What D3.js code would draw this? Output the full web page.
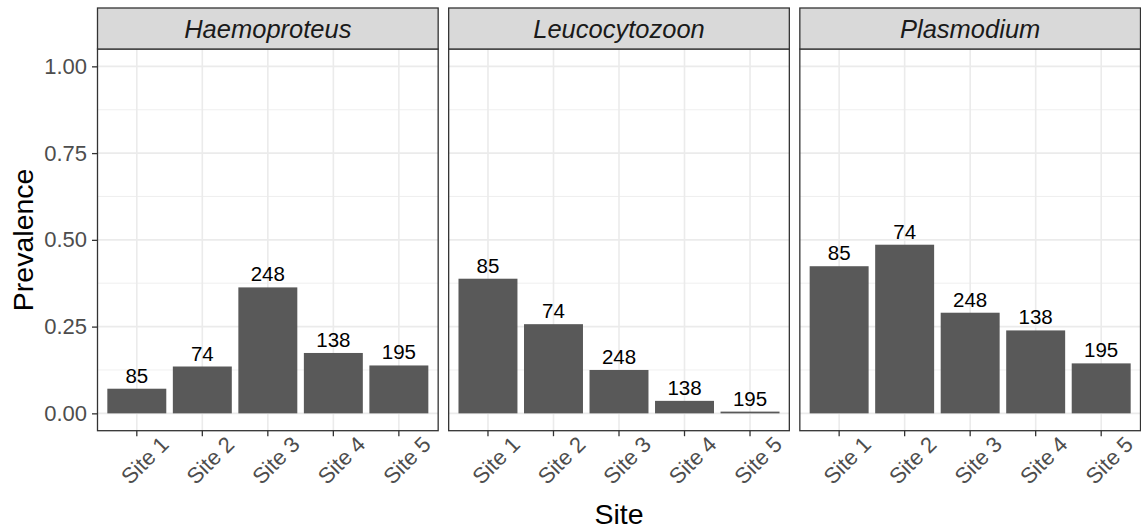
<!DOCTYPE html>
<html lang="en">
<head>
<meta charset="UTF-8">
<title>Prevalence by site</title>
<script src="https://d3js.org/d3.v7.min.js"></script>
<style>
  body { margin: 0; background: #ffffff; }
  svg { display: block; font-family: "Liberation Sans", Arial, Helvetica, sans-serif; }
</style>
</head>
<body>
<div id="chart"></div>
<script>
// data
const genera = ["Haemoproteus", "Leucocytozoon", "Plasmodium"];
const sites = ["Site 1", "Site 2", "Site 3", "Site 4", "Site 5"];
const sampleSizes = [85, 74, 248, 138, 195];
const haemoproteus = [0.071, 0.135, 0.363, 0.174, 0.138];
const leucocytozoon = [0.388, 0.257, 0.125, 0.036, 0.005];
const plasmodium = [0.424, 0.486, 0.290, 0.239, 0.144];
const yTicks = [0, 0.25, 0.5, 0.75, 1];

const prevalence = [haemoproteus, leucocytozoon, plasmodium];

const width = 1141, height = 529;
const left = 97.5, right = 1140.5, gap = 10.5;
const stripTop = 8, panelTop = 49, panelBottom = 430.7;
const panelW = (right - left - 2 * gap) / 3;

const svg = d3.select("#chart").append("svg")
  .attr("width", width).attr("height", height);

const y = d3.scaleLinear().domain([-0.05, 1.05]).range([panelBottom, panelTop]);
const x = d3.scaleBand().domain(sites).range([0, panelW])
  .paddingInner(0.1).paddingOuter(0.15);
const minorTicks = d3.range(0.125, 1, 0.25);

genera.forEach((genus, gi) => {
  const g = svg.append("g").attr("transform", `translate(${left + gi * (panelW + gap)},0)`);
  const vals = prevalence[gi];

  // grid
  g.append("g").selectAll("line").data(minorTicks).join("line")
    .attr("x1", 0).attr("x2", panelW)
    .attr("y1", d => y(d)).attr("y2", d => y(d))
    .attr("stroke", "#ebebeb").attr("stroke-width", 0.8);
  g.append("g").selectAll("line").data(yTicks).join("line")
    .attr("x1", 0).attr("x2", panelW)
    .attr("y1", d => y(d)).attr("y2", d => y(d))
    .attr("stroke", "#ebebeb").attr("stroke-width", 1.6);
  g.append("g").selectAll("line").data(sites).join("line")
    .attr("x1", d => x(d) + x.bandwidth() / 2).attr("x2", d => x(d) + x.bandwidth() / 2)
    .attr("y1", panelTop).attr("y2", panelBottom)
    .attr("stroke", "#ebebeb").attr("stroke-width", 1.6);

  // bars
  g.append("g").selectAll("rect").data(sites).join("rect")
    .attr("x", d => x(d))
    .attr("width", x.bandwidth())
    .attr("y", (d, i) => y(vals[i]))
    .attr("height", (d, i) => y(0) - y(vals[i]))
    .attr("fill", "#595959");

  // sample size labels
  g.append("g").selectAll("text").data(sites).join("text")
    .attr("x", d => x(d) + x.bandwidth() / 2)
    .attr("y", (d, i) => y(vals[i]) - 6)
    .attr("text-anchor", "middle")
    .attr("font-size", 20.5)
    .attr("fill", "#000")
    .text((d, i) => sampleSizes[i]);

  // panel border
  g.append("rect")
    .attr("x", 0).attr("y", panelTop)
    .attr("width", panelW).attr("height", panelBottom - panelTop)
    .attr("fill", "none").attr("stroke", "#333333").attr("stroke-width", 1.3);

  // strip
  g.append("rect")
    .attr("x", 0).attr("y", stripTop)
    .attr("width", panelW).attr("height", panelTop - stripTop)
    .attr("fill", "#d9d9d9").attr("stroke", "#333333").attr("stroke-width", 1.3);
  g.append("text")
    .attr("x", panelW / 2).attr("y", 38)
    .attr("text-anchor", "middle")
    .attr("font-size", 25.5).attr("font-style", "italic")
    .attr("fill", "#1a1a1a")
    .text(genus);

  // x axis
  const xa = g.append("g").attr("transform", `translate(0,${panelBottom})`)
    .call(d3.axisBottom(x).tickSize(5.5));
  xa.select(".domain").remove();
  xa.selectAll(".tick line").attr("stroke", "#333333").attr("stroke-width", 1.3);
  xa.selectAll(".tick text")
    .attr("x", 8).attr("y", 29.5).attr("dy", "0.35em")
    .attr("text-anchor", "middle")
    .attr("transform", "rotate(-45, 8, 29.5)")
    .attr("font-size", 22).attr("fill", "#4d4d4d")
    .attr("font-family", null);

  // y axis on first panel only
  if (gi === 0) {
    const ya = g.append("g")
      .call(d3.axisLeft(y).tickValues(yTicks).tickFormat(d3.format(".2f"))
        .tickSize(5.5).tickPadding(5));
    ya.select(".domain").remove();
    ya.selectAll(".tick line").attr("stroke", "#333333").attr("stroke-width", 1.3);
    ya.selectAll(".tick text").attr("font-size", 22).attr("fill", "#4d4d4d")
      .attr("font-family", null);
  }
});

// axis titles
svg.append("text")
  .attr("transform", `translate(33,${(panelTop + panelBottom) / 2}) rotate(-90)`)
  .attr("text-anchor", "middle")
  .attr("font-size", 28.5).attr("fill", "#000")
  .text("Prevalence");

svg.append("text")
  .attr("x", (left + right) / 2).attr("y", 524)
  .attr("text-anchor", "middle")
  .attr("font-size", 28.5).attr("fill", "#000")
  .text("Site");
</script>
</body>
</html>
